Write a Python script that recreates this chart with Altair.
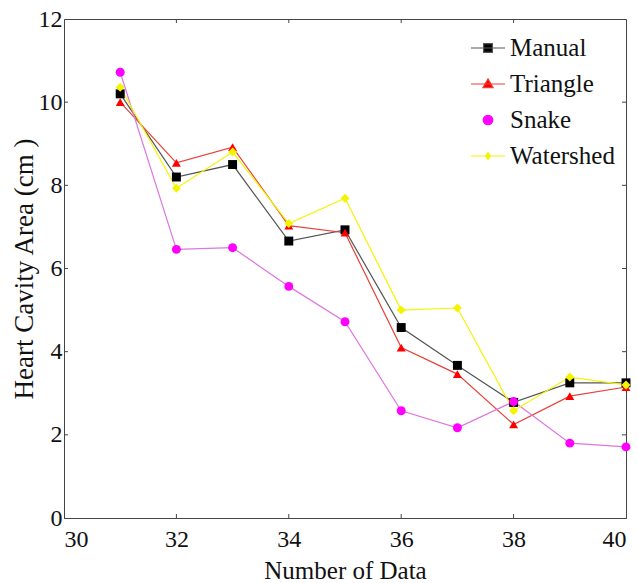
import altair as alt
import pandas as pd

# ---- data ----
x_values = [31, 32, 33, 34, 35, 36, 37, 38, 39, 40]
manual = [10.2, 8.2, 8.5, 6.66, 6.93, 4.58, 3.67, 2.78, 3.25, 3.25]
triangle = [10.0, 8.54, 8.92, 7.03, 6.86, 4.1, 3.46, 2.25, 2.93, 3.15]
snake = [10.72, 6.46, 6.5, 5.57, 4.72, 2.58, 2.17, 2.8, 1.8, 1.71]
watershed = [10.36, 7.93, 8.8, 7.08, 7.69, 5.0, 5.05, 2.58, 3.39, 3.2]
series_names = ["Manual", "Triangle", "Snake", "Watershed"]
x_tick_values = [30, 32, 34, 36, 38, 40]
y_tick_values = [0, 2, 4, 6, 8, 10, 12]
x_inner_ticks = [32, 34, 36, 38]
y_inner_ticks = [2, 4, 6, 8, 10]

# ---- styles ----
line_colors = ["#555555", "#e8403a", "#dd77dd", "#f4f400"]
marker_colors = ["#000000", "#ff0000", "#ff00ff", "#f4f400"]
legend_stroke_colors = ["#555555", "#e8403a", "#ff00ff", "#f4f400"]
marker_shapes = ["square", "triangle-up", "circle", "diamond"]
legend_shapes = [
    "M-1,0H1M-0.26,-0.26H0.26V0.26H-0.26Z",
    "M-1,0H1M0,-0.3L0.3,0.22H-0.3Z",
    "M0.28,0A0.28,0.28 0 1,1 -0.28,0A0.28,0.28 0 1,1 0.28,0Z",
    "M-1,0H1M0,-0.2L0.14,0L0,0.2L-0.14,0Z",
]
FONT = "Liberation Serif"

rows = []
for name, vals in zip(series_names, [manual, triangle, snake, watershed]):
    for xv, yv in zip(x_values, vals):
        rows.append({"x": xv, "y": yv, "series": name})
df = pd.DataFrame(rows)

xticks_df = pd.DataFrame({"x": x_inner_ticks})
yticks_df = pd.DataFrame({"y": y_inner_ticks})

x_scale = alt.Scale(domain=[30, 40], nice=False, zero=False)
y_scale = alt.Scale(domain=[0, 12], nice=False)

x_axis = alt.Axis(values=x_tick_values, title="Number of Data", grid=False,
                  ticks=False, tickSize=0, labelPadding=9, titleFontSize=25,
                  titleY=60, titleBaseline="alphabetic")
y_axis = alt.Axis(values=y_tick_values, title="Heart Cavity Area (cm )", grid=False,
                  ticks=False, tickSize=0, labelPadding=2, titleFontSize=27,
                  titleX=-32, titleBaseline="alphabetic")

X = alt.X("x:Q", scale=x_scale, axis=x_axis)
Y = alt.Y("y:Q", scale=y_scale, axis=y_axis)

lines = alt.Chart(df).mark_line(strokeWidth=1.2).encode(
    x=X, y=Y,
    color=alt.Color("series:N", scale=alt.Scale(domain=series_names, range=line_colors), legend=None),
    detail="series:N",
    order="x:Q",
)

points = alt.Chart(df).mark_point(filled=True, opacity=1, size=80).encode(
    x=X, y=Y,
    color=alt.Color("series:N", scale=alt.Scale(domain=series_names, range=marker_colors), legend=None),
    shape=alt.Shape("series:N", scale=alt.Scale(domain=series_names, range=marker_shapes), legend=None),
)

leg = alt.Legend(title=None, orient="none", legendX=406, legendY=11,
                 symbolSize=1156, symbolStrokeWidth=1.2, symbolOpacity=1,
                 labelFont=FONT, labelFontSize=25, labelColor="#111111",
                 labelOffset=4, rowPadding=5, padding=0)

legend_layer = alt.Chart(df).mark_point(filled=True, opacity=0).encode(
    x=X, y=Y,
    fill=alt.Fill("series:N", scale=alt.Scale(domain=series_names, range=marker_colors), legend=leg),
    stroke=alt.Stroke("series:N", scale=alt.Scale(domain=series_names, range=legend_stroke_colors), legend=leg),
    shape=alt.Shape("series:N", scale=alt.Scale(domain=series_names, range=legend_shapes), legend=leg),
)

tick_color = "#444444"
xt_bottom = alt.Chart(xticks_df).mark_rule(color=tick_color, strokeWidth=1).encode(
    x=X, y=alt.value(499), y2=alt.value(495))
xt_top = alt.Chart(xticks_df).mark_rule(color=tick_color, strokeWidth=1).encode(
    x=X, y=alt.value(0), y2=alt.value(4))
yt_left = alt.Chart(yticks_df).mark_rule(color=tick_color, strokeWidth=1).encode(
    y=Y, x=alt.value(0), x2=alt.value(4))
yt_right = alt.Chart(yticks_df).mark_rule(color=tick_color, strokeWidth=1).encode(
    y=Y, x=alt.value(562), x2=alt.value(558))

chart = alt.layer(
    lines, points, legend_layer, xt_bottom, xt_top, yt_left, yt_right
).resolve_scale(
    color="independent", shape="independent", fill="independent", stroke="independent"
).properties(
    width=562, height=499,
    padding={"left": 64, "top": 19, "right": 12, "bottom": 65},
    autosize=alt.AutoSizeParams(type="none"),
    background="white",
).configure_view(
    stroke="#444444", strokeWidth=1
).configure_axis(
    labelFont=FONT, labelFontSize=24, labelColor="#111111",
    titleFont=FONT, titleFontWeight="normal", titleColor="#111111",
    domainColor="#444444", domainWidth=1,
)

chart.save("out.html", embed_options={"renderer": "svg", "actions": False})
